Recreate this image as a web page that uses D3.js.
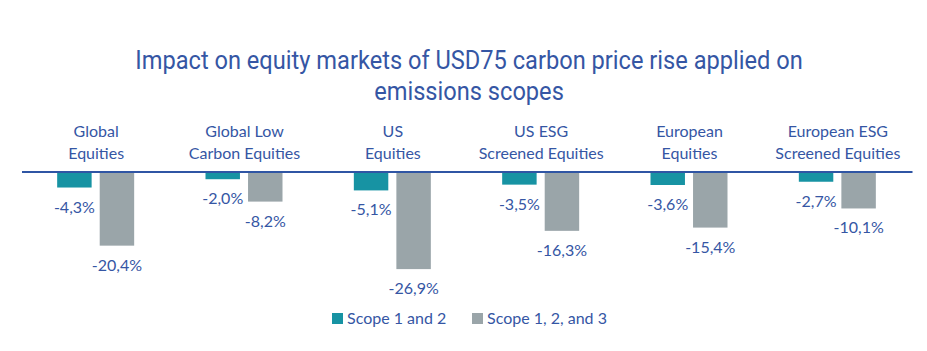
<!DOCTYPE html>
<html><head><meta charset="utf-8">
<script src="https://cdn.jsdelivr.net/npm/d3@7"></script>
<style>body{margin:0;background:#fff}svg{display:block}</style>
</head><body>
<svg id="c" width="927" height="351"></svg>
<script>
const titleLines = ["Impact on equity markets of USD75 carbon price rise applied on", "emissions scopes"];
const categories = [["Global","Equities"],["Global Low","Carbon Equities"],["US","Equities"],["US ESG","Screened Equities"],["European","Equities"],["European ESG","Screened Equities"]];
const seriesNames = ["Scope 1 and 2", "Scope 1, 2, and 3"];
const scope12 = [-4.3, -2.0, -5.1, -3.5, -3.6, -2.7];
const scope123 = [-20.4, -8.2, -26.9, -16.3, -15.4, -10.1];
const colors = ["#1793a3", "#9aa5a9"];
const textColor = "#3556a4";
const fmt = v => d3.format(".1f")(v).replace(".", ",").replace("−","-") + "%";

const svg = d3.select("#c");
const keys = categories.map(c => c.join(" "));
const x0 = d3.scaleBand().domain(keys).range([22, 912]);
const x1 = d3.scaleBand().domain(seriesNames).range([-39, 38]).paddingInner(0.19);
const y = d3.scaleLinear().domain([0, -30]).range([172, 280.3]);

// title
const tg = svg.append("g").attr("font-family", "Roboto").attr("font-size", 26).attr("fill", textColor);
const t1 = tg.append("text").attr("x", 0).attr("y", 69.5).text(titleLines[0]);
const t2 = tg.append("text").attr("x", 0).attr("y", 100).text(titleLines[1]);
const w1 = t1.node().getComputedTextLength();
const k = 668 / w1;
t1.attr("text-anchor","middle"); t2.attr("text-anchor","middle");
tg.attr("transform", `translate(469,0) scale(${k},1)`);

const data = keys.map((key, i) => ({key, cat: categories[i], vals: [scope12[i], scope123[i]]}));

const g = svg.append("g");
const grp = g.selectAll("g.cat").data(data).join("g").attr("class","cat")
  .attr("transform", d => `translate(${x0(d.key) + x0.bandwidth()/2},0)`);

grp.selectAll("rect").data(d => d.vals.map((v, j) => ({v, s: seriesNames[j], j}))).join("rect")
  .attr("x", d => x1(d.s)).attr("width", x1.bandwidth())
  .attr("y", y(0)).attr("height", d => y(d.v) - y(0))
  .attr("fill", d => colors[d.j]);

grp.selectAll("text.val").data(d => d.vals.map((v, j) => ({v, s: seriesNames[j], j}))).join("text")
  .attr("class","val")
  .attr("x", d => x1(d.s) + x1.bandwidth()/2).attr("y", d => y(d.v) + 25)
  .attr("text-anchor","middle").attr("font-family","Lato").attr("font-size",16)
  .attr("fill", textColor).text(d => fmt(d.v));

grp.selectAll("text.cat").data(d => d.cat.map((t, i) => ({t, i}))).join("text")
  .attr("class","cat").attr("x", 0).attr("y", d => 137 + d.i*22)
  .attr("text-anchor","middle").attr("font-family","Lato").attr("font-size",16)
  .attr("fill", textColor).text(d => d.t);

// zero line
g.append("line").attr("x1", 22).attr("x2", 912.5).attr("y1", y(0)).attr("y2", y(0))
  .attr("stroke", "#2f55a4").attr("stroke-width", 2);

// legend
const legX = [332, 472];
const lg = svg.append("g");
seriesNames.forEach((s, i) => {
  lg.append("rect").attr("x", legX[i]).attr("y", 313).attr("width", 11).attr("height", 11).attr("fill", colors[i]);
  lg.append("text").attr("x", legX[i] + 15).attr("y", 324).attr("font-family","Lato").attr("font-size",16)
    .attr("fill", textColor).text(s);
});
</script>
</body></html>
